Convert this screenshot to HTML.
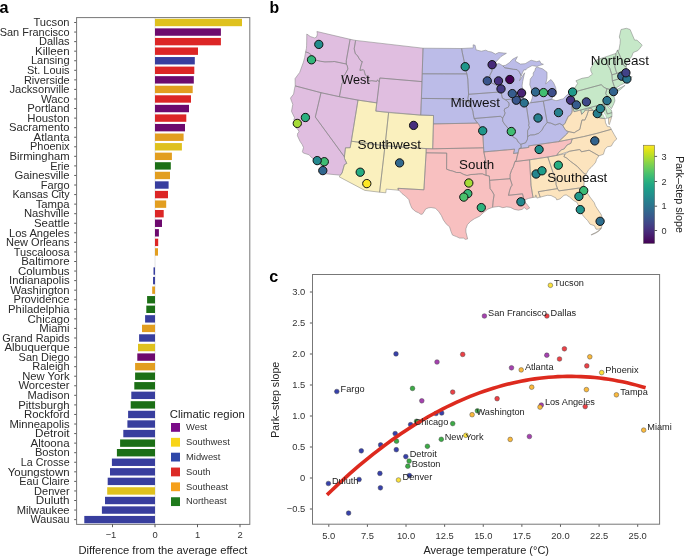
<!DOCTYPE html>
<html><head><meta charset="utf-8"><style>
html,body{margin:0;padding:0;background:#fff;}
svg{display:block;font-family:"Liberation Sans",sans-serif;will-change:transform;}
</style></head><body>
<svg width="685" height="557" viewBox="0 0 685 557">
<rect width="685" height="557" fill="#fff"/>
<path d="M290.5,98.1 L291.6,101.3 L292.8,104.3 L291.5,111.3 L294.5,117.7 L293.9,120.1 L296.6,122.6 L296.2,124.2 L296.0,127.6 L298.2,129.9 L299.1,131.8 L299.0,131.9 L297.7,133.2 L297.4,135.7 L300.1,141.5 L302.2,144.6 L303.5,147.5 L302.4,151.7 L303.3,153.0 L309.1,154.8 L311.4,157.4 L313.8,159.2 L315.8,159.5 L316.4,160.6 L316.8,162.2 L319.4,163.8 L322.8,167.9 L322.7,170.4 L323.0,173.5 L340.3,175.2 L342.1,172.9 L344.4,164.6 L346.8,163.4 L344.5,158.5 L344.4,156.8 L345.5,147.9 L345.7,147.8 L350.2,147.7 L358.1,100.2 L376.7,102.9 L376.8,103.0 L375.8,111.1 L420.7,115.1 L422.0,81.6 L423.0,48.2 L355.6,40.4 L350.1,39.3 L316.9,31.5 L317.3,33.3 L317.2,35.0 L316.3,37.3 L316.2,37.4 L314.4,37.9 L310.3,36.5 L306.8,34.0 L306.6,45.9 L306.4,48.4 L305.6,51.9 L304.7,57.4 L303.4,62.3 L299.7,72.4 L295.1,78.6 L295.2,85.9 L294.6,88.3 L293.6,94.1Z" fill="#e0bee0" stroke="none"/>
<path d="M339.3,176.9 L364.8,190.4 L379.5,192.2 L385.8,192.8 L386.2,189.3 L386.3,189.1 L398.4,190.2 L398.0,188.5 L398.0,188.4 L398.1,188.3 L423.9,189.8 L426.1,152.8 L426.2,148.8 L426.4,148.6 L432.7,148.8 L433.5,115.5 L420.7,115.1 L388.6,112.6 L375.9,111.2 L375.8,111.0 L376.8,102.9 L358.1,100.1 L350.2,147.6 L350.0,147.7 L345.5,147.8 L344.4,156.8 L344.5,158.5 L346.7,163.3 L346.7,163.4 L344.4,164.6 L342.1,172.9 L340.3,175.2Z" fill="#faf0be" stroke="none"/>
<path d="M420.7,115.1 L433.5,115.5 L433.5,115.7 L433.4,123.9 L477.5,123.2 L478.9,124.3 L480.5,128.0 L482.6,130.4 L483.8,151.9 L514.4,149.2 L514.5,149.4 L513.5,153.5 L518.1,152.9 L519.0,148.8 L519.1,148.7 L528.8,147.4 L528.6,146.0 L528.8,145.9 L558.6,141.6 L566.8,134.0 L568.6,131.6 L566.1,130.7 L564.1,127.8 L562.9,125.3 L565.2,123.3 L565.8,121.4 L568.4,116.2 L570.2,115.3 L571.9,112.4 L572.3,109.7 L571.8,106.4 L572.2,104.2 L569.5,93.3 L566.8,95.1 L563.1,98.9 L561.2,99.3 L556.9,100.6 L555.5,100.5 L551.8,99.3 L551.8,99.1 L553.0,96.3 L556.1,90.9 L555.7,87.6 L553.7,82.9 L551.0,79.5 L548.6,81.3 L546.0,83.7 L545.8,83.7 L545.8,83.6 L547.0,78.2 L547.0,72.2 L542.5,68.8 L537.3,67.2 L535.6,67.9 L534.9,70.6 L533.2,73.1 L533.3,75.2 L530.3,79.1 L529.8,84.7 L532.7,92.7 L532.3,97.9 L530.4,102.8 L526.2,103.9 L526.0,103.9 L524.8,100.7 L523.3,97.6 L522.1,93.5 L522.7,89.2 L522.1,85.8 L522.7,81.5 L524.6,72.8 L520.1,79.8 L519.9,79.8 L519.8,79.6 L521.2,75.8 L523.8,69.9 L525.7,70.0 L526.7,68.6 L532.1,65.6 L537.1,66.4 L539.4,65.5 L543.4,64.3 L541.1,63.5 L539.6,60.8 L536.8,61.7 L531.1,60.2 L525.2,63.7 L520.4,64.0 L515.2,61.0 L515.2,60.9 L517.4,56.7 L512.5,59.3 L509.5,62.6 L505.7,65.2 L502.8,65.8 L498.9,63.4 L493.3,65.7 L492.3,66.0 L492.1,65.9 L492.2,65.7 L492.6,65.3 L495.8,62.1 L501.0,56.5 L506.4,53.3 L498.7,52.5 L495.4,54.1 L491.7,52.0 L488.2,51.4 L485.8,50.2 L481.3,51.2 L476.1,49.9 L476.0,49.8 L475.1,45.3 L473.1,44.8 L473.3,47.8 L473.2,47.9 L461.6,48.5 L423.0,48.2 L422.2,73.8 L421.4,98.4Z" fill="#bcbce8" stroke="none"/>
<path d="M397.9,188.3 L398.4,190.2 L399.4,190.5 L402.0,193.6 L405.5,196.3 L408.9,199.7 L409.5,202.2 L410.7,205.5 L412.0,208.4 L415.6,211.5 L418.6,212.8 L420.8,214.3 L422.3,214.2 L424.0,211.8 L425.7,209.0 L428.3,207.9 L431.0,207.5 L435.5,208.3 L438.8,211.7 L441.3,215.4 L443.5,220.2 L446.5,224.3 L449.5,226.7 L451.0,231.5 L452.5,235.1 L456.4,236.6 L459.6,238.1 L463.5,238.1 L465.5,239.4 L467.9,238.7 L467.5,238.3 L465.9,232.0 L465.9,228.8 L467.4,224.7 L470.5,221.4 L474.3,218.8 L479.6,216.2 L483.3,212.7 L487.7,209.2 L492.6,207.3 L498.9,206.4 L502.8,207.7 L506.6,206.9 L510.4,207.4 L514.4,209.4 L518.4,210.2 L522.1,209.4 L524.2,207.5 L526.8,209.6 L529.7,208.0 L527.8,205.4 L526.1,203.2 L523.7,201.5 L523.6,201.4 L524.3,200.1 L528.6,198.4 L533.0,197.4 L531.0,185.3 L529.6,159.8 L529.8,159.8 L547.8,157.0 L556.7,155.4 L558.5,152.6 L561.5,149.8 L564.2,148.9 L567.0,145.0 L570.9,143.3 L572.2,138.9 L558.6,141.6 L528.6,145.9 L528.8,147.2 L528.7,147.4 L519.0,148.7 L518.2,152.8 L518.0,152.9 L513.7,153.5 L513.6,153.4 L513.6,153.3 L514.6,149.2 L483.9,151.9 L483.8,151.8 L482.6,130.4 L480.5,128.0 L478.9,124.3 L477.5,123.1 L433.4,123.9 L432.7,148.7 L432.6,148.8 L426.2,148.6 L426.1,152.8 L423.9,189.7 L423.8,189.8Z" fill="#f8c0c0" stroke="none"/>
<path d="M529.6,159.8 L531.0,185.3 L533.0,197.4 L536.0,197.0 L535.9,196.2 L536.1,196.1 L536.2,196.2 L536.9,198.1 L547.1,195.3 L551.0,195.5 L556.0,198.0 L556.7,199.9 L560.0,198.9 L564.0,195.3 L566.3,194.9 L569.7,197.1 L573.5,200.5 L576.9,202.3 L578.3,205.3 L579.2,210.1 L581.5,213.7 L585.6,218.6 L587.7,220.6 L590.0,224.2 L594.4,225.7 L596.0,229.2 L598.4,229.2 L600.3,228.6 L600.4,228.6 L600.4,228.8 L598.3,230.8 L595.8,232.5 L591.3,234.6 L591.3,235.1 L595.9,233.0 L598.8,231.2 L600.9,229.1 L601.4,227.7 L601.3,227.6 L601.9,226.0 L602.7,222.2 L601.5,215.1 L595.4,205.8 L594.3,202.7 L590.0,197.1 L587.1,192.7 L584.0,185.7 L584.1,180.9 L584.7,176.1 L586.1,174.3 L588.5,169.8 L591.0,167.5 L594.0,164.3 L595.7,162.2 L596.5,159.4 L598.9,155.8 L603.4,154.3 L605.0,149.2 L607.3,146.8 L611.3,146.1 L613.9,141.6 L616.8,139.0 L614.0,134.2 L609.8,126.7 L607.5,126.6 L607.3,126.5 L605.5,122.7 L605.0,118.6 L600.7,118.1 L597.7,117.2 L597.6,117.0 L598.3,113.5 L597.6,112.4 L594.5,111.1 L592.8,110.5 L591.8,108.8 L589.0,108.6 L587.4,110.2 L585.3,110.0 L584.3,111.6 L581.8,114.2 L581.7,114.1 L580.7,110.1 L574.0,111.7 L574.0,111.6 L572.2,104.2 L571.8,106.4 L572.3,109.7 L571.9,112.4 L570.2,115.3 L568.4,116.2 L565.8,121.4 L565.2,123.3 L562.8,125.3 L564.1,127.8 L566.1,130.7 L568.4,131.5 L568.5,131.7 L566.8,134.0 L558.6,141.6 L572.0,138.9 L572.1,139.1 L570.9,143.3 L567.0,145.0 L564.2,148.9 L561.5,149.8 L558.5,152.6 L556.7,155.4 L547.8,157.0ZM568.3,151.6 L568.5,151.7 L568.5,151.9 L565.2,153.8 L559.0,155.0 L558.9,154.9 L559.0,154.7ZM608.5,118.4 L608.6,123.6 L609.3,124.7 L610.6,120.5 L611.9,116.3 L609.4,117.7Z" fill="#fce4be" stroke="none"/>
<path d="M569.5,93.3 L574.0,111.7 L580.6,110.0 L580.7,110.1 L581.7,114.3 L584.3,111.6 L585.3,110.0 L587.4,110.2 L589.0,108.6 L591.7,108.8 L591.8,108.8 L592.8,110.5 L594.5,111.1 L597.7,112.4 L598.3,113.5 L597.6,117.2 L600.7,118.1 L605.0,118.6 L609.4,117.7 L611.9,116.3 L612.0,112.6 L611.2,109.8 L607.7,106.5 L606.0,104.4 L606.4,102.2 L607.2,101.1 L607.4,101.1 L607.5,101.3 L606.3,104.3 L609.9,106.7 L611.5,108.6 L613.8,103.8 L614.9,100.8 L613.7,95.0 L612.4,94.6 L612.3,94.5 L612.9,92.6 L612.9,92.2 L613.1,92.1 L613.8,91.0 L614.3,89.5 L617.3,87.2 L620.6,85.1 L624.7,83.1 L626.8,81.4 L628.4,80.4 L629.4,79.1 L631.5,77.3 L632.2,76.8 L631.0,77.0 L629.9,75.8 L626.4,73.5 L628.1,70.2 L626.3,68.8 L626.2,67.0 L627.4,61.5 L631.6,56.7 L633.2,52.5 L637.7,50.7 L639.5,48.7 L642.1,45.3 L641.7,44.6 L636.9,40.1 L634.7,40.1 L634.6,40.1 L630.1,29.5 L626.4,28.3 L621.0,29.5 L619.3,37.0 L620.3,39.8 L620.1,43.4 L618.9,50.2 L618.8,50.3 L617.4,50.2 L615.8,53.4 L605.3,57.0 L597.5,59.5 L594.4,61.7 L590.7,68.5 L590.9,71.1 L592.4,74.0 L592.4,74.2 L588.2,77.3 L582.0,78.3 L575.9,80.8 L577.5,83.3 L577.5,83.5 L573.6,89.8ZM613.5,93.3 L615.7,92.6 L620.2,89.8 L625.1,85.3 L622.0,87.0 L618.4,88.6 L614.4,90.8Z" fill="#c6e8c8" stroke="none"/>
<path d="M306.8,34.0 L306.7,41.1 L306.6,45.8 L306.4,48.4 L305.6,51.9 L308.4,52.8 L311.5,55.0 L311.8,58.9 L316.7,60.3 L320.7,61.3 L324.9,61.9 L332.3,61.7 L334.3,61.5 L346.3,64.0 L346.3,60.5 L350.1,39.3 L316.9,31.5 L317.3,33.3 L317.2,35.0 L316.3,37.3 L314.4,37.9 L310.3,36.5Z" fill="none" stroke="#858585" stroke-width="0.55" stroke-linejoin="round"/>
<path d="M305.6,51.9 L304.7,57.4 L303.4,62.2 L299.7,72.4 L295.1,78.6 L295.2,85.9 L321.0,92.7 L339.4,96.7 L341.9,83.6 L343.0,82.1 L342.0,77.7 L345.2,74.0 L347.9,69.0 L347.3,65.9 L346.3,64.0 L334.3,61.5 L332.3,61.7 L324.9,61.9 L320.7,61.3 L316.7,60.3 L311.8,58.9 L311.5,55.0 L308.4,52.8Z" fill="none" stroke="#858585" stroke-width="0.55" stroke-linejoin="round"/>
<path d="M295.2,85.9 L294.6,88.3 L293.6,94.1 L290.5,98.1 L291.6,101.3 L292.8,104.3 L291.5,111.3 L294.5,117.7 L293.9,120.1 L296.7,122.6 L296.2,124.2 L296.0,127.6 L298.2,129.9 L299.1,131.9 L297.7,133.2 L297.4,135.7 L300.1,141.5 L302.2,144.6 L303.5,147.5 L302.4,151.7 L303.3,153.0 L309.1,154.8 L311.4,157.4 L313.8,159.2 L315.8,159.4 L316.4,160.6 L316.8,162.2 L319.4,163.8 L322.9,167.9 L322.7,170.4 L323.0,173.5 L340.3,175.2 L342.1,172.9 L344.4,164.6 L346.8,163.4 L344.5,158.5 L344.4,156.8 L315.3,117.0 L321.0,92.7Z" fill="none" stroke="#858585" stroke-width="0.55" stroke-linejoin="round"/>
<path d="M321.0,92.7 L315.3,117.0 L344.4,156.8 L345.5,147.8 L350.2,147.7 L351.3,141.2 L358.0,100.1 L339.4,96.7Z" fill="none" stroke="#858585" stroke-width="0.55" stroke-linejoin="round"/>
<path d="M350.1,39.3 L346.3,60.5 L346.3,64.0 L347.3,65.9 L347.9,69.0 L345.2,74.0 L342.0,77.7 L343.0,82.1 L341.9,83.6 L339.4,96.7 L358.0,100.1 L376.8,102.9 L379.3,82.1 L377.6,79.8 L376.6,81.4 L371.8,80.7 L368.7,81.1 L368.0,77.2 L365.3,75.0 L364.1,70.6 L363.3,69.7 L359.9,70.4 L360.9,65.9 L362.3,61.5 L361.0,61.2 L359.3,58.8 L357.4,55.5 L355.3,53.7 L354.2,48.8 L355.6,40.4Z" fill="none" stroke="#858585" stroke-width="0.55" stroke-linejoin="round"/>
<path d="M379.3,82.1 L379.8,78.0 L422.0,81.6 L423.0,48.2 L355.6,40.4 L354.2,48.8 L355.3,53.7 L357.4,55.5 L359.3,58.8 L361.0,61.2 L362.3,61.5 L360.9,65.9 L359.9,70.4 L363.3,69.7 L364.1,70.6 L365.3,75.0 L368.0,77.2 L368.7,81.1 L371.8,80.7 L376.6,81.4 L377.6,79.8Z" fill="none" stroke="#858585" stroke-width="0.55" stroke-linejoin="round"/>
<path d="M379.8,78.0 L379.3,82.1 L376.8,102.9 L375.8,111.1 L420.7,115.1 L421.4,98.4 L422.0,81.6Z" fill="none" stroke="#858585" stroke-width="0.55" stroke-linejoin="round"/>
<path d="M358.0,100.1 L351.3,141.2 L385.0,145.8 L388.6,112.6 L375.8,111.1 L376.8,102.9Z" fill="none" stroke="#858585" stroke-width="0.55" stroke-linejoin="round"/>
<path d="M388.6,112.6 L385.0,145.8 L426.2,148.6 L432.7,148.8 L433.4,123.9 L433.5,115.5 L420.7,115.1Z" fill="none" stroke="#858585" stroke-width="0.55" stroke-linejoin="round"/>
<path d="M351.3,141.2 L350.2,147.7 L345.5,147.8 L344.4,156.8 L344.5,158.5 L346.8,163.4 L344.4,164.6 L342.1,172.9 L340.3,175.2 L339.3,176.9 L364.8,190.4 L379.6,192.2 L385.0,145.8Z" fill="none" stroke="#858585" stroke-width="0.55" stroke-linejoin="round"/>
<path d="M385.0,145.8 L379.6,192.2 L385.8,192.8 L386.2,189.1 L398.4,190.2 L397.9,188.3 L423.9,189.8 L426.1,152.8 L426.2,148.6Z" fill="none" stroke="#858585" stroke-width="0.55" stroke-linejoin="round"/>
<path d="M426.1,152.8 L423.9,189.8 L397.9,188.3 L398.4,190.2 L399.3,190.5 L402.0,193.6 L405.5,196.2 L408.9,199.7 L409.5,202.2 L410.7,205.5 L412.0,208.4 L415.6,211.5 L418.6,212.8 L420.8,214.3 L422.3,214.2 L424.0,211.8 L425.6,209.0 L428.3,207.9 L431.0,207.5 L435.5,208.3 L438.8,211.7 L441.3,215.4 L443.5,220.2 L446.5,224.3 L449.5,226.7 L451.0,231.5 L452.5,235.1 L456.4,236.6 L459.6,238.1 L463.5,238.1 L465.5,239.4 L467.9,238.7 L467.5,238.4 L465.9,232.0 L465.9,228.8 L467.4,224.7 L470.5,221.4 L474.3,218.8 L479.6,216.2 L483.3,212.7 L485.5,211.0 L487.7,209.2 L492.6,207.3 L493.0,202.3 L493.3,199.9 L494.1,194.9 L492.0,191.0 L490.1,188.7 L489.6,180.3 L489.3,176.0 L486.1,175.4 L482.3,173.8 L478.7,173.9 L475.2,174.3 L470.9,174.5 L467.0,175.5 L463.7,174.4 L460.1,172.5 L456.6,172.5 L452.3,170.9 L450.2,170.5 L446.6,169.2 L446.7,153.1Z" fill="none" stroke="#858585" stroke-width="0.55" stroke-linejoin="round"/>
<path d="M426.2,148.6 L426.1,152.8 L446.7,153.1 L446.6,169.2 L450.2,170.5 L452.3,170.9 L456.6,172.5 L460.1,172.5 L463.7,174.4 L467.0,175.5 L470.9,174.5 L475.2,174.3 L478.7,173.9 L482.3,173.8 L486.1,175.4 L485.7,160.9 L483.8,151.9 L483.6,147.8 L432.7,148.8Z" fill="none" stroke="#858585" stroke-width="0.55" stroke-linejoin="round"/>
<path d="M433.4,123.9 L432.7,148.8 L483.6,147.8 L482.6,130.4 L480.5,128.0 L478.9,124.3 L477.5,123.1Z" fill="none" stroke="#858585" stroke-width="0.55" stroke-linejoin="round"/>
<path d="M421.4,98.4 L420.7,115.1 L433.5,115.5 L433.4,123.9 L477.5,123.1 L474.2,118.5 L473.4,115.0 L472.9,111.3 L471.9,108.4 L469.8,105.1 L469.0,102.7 L468.0,101.4 L465.5,100.6 L462.3,99.9 L456.0,98.8Z" fill="none" stroke="#858585" stroke-width="0.55" stroke-linejoin="round"/>
<path d="M422.2,73.8 L421.4,98.4 L456.0,98.8 L462.3,99.9 L465.5,100.6 L468.0,101.4 L469.0,102.7 L467.9,98.5 L468.6,94.3 L467.8,79.2 L466.9,73.9Z" fill="none" stroke="#858585" stroke-width="0.55" stroke-linejoin="round"/>
<path d="M423.0,48.2 L422.2,73.8 L466.9,73.9 L465.1,68.4 L464.1,60.9 L462.3,52.6 L461.6,48.5Z" fill="none" stroke="#858585" stroke-width="0.55" stroke-linejoin="round"/>
<path d="M461.6,48.5 L462.3,52.6 L464.1,60.9 L465.1,68.4 L466.9,73.9 L467.8,79.2 L468.6,94.3 L501.0,91.9 L500.5,89.0 L498.7,87.1 L495.3,84.5 L490.2,82.4 L490.0,80.3 L489.8,75.3 L492.1,70.9 L491.8,68.4 L491.6,66.2 L492.6,65.3 L495.8,62.1 L501.0,56.5 L506.4,53.3 L503.4,53.0 L498.7,52.5 L495.4,54.1 L491.7,52.0 L488.2,51.4 L485.8,50.2 L481.3,51.2 L476.1,49.9 L475.1,45.3 L473.1,44.8 L473.3,47.9Z" fill="none" stroke="#858585" stroke-width="0.55" stroke-linejoin="round"/>
<path d="M468.6,94.3 L467.9,98.5 L469.0,102.7 L469.8,105.1 L471.9,108.4 L472.9,111.3 L473.4,115.0 L474.2,118.5 L500.4,116.3 L502.6,118.0 L504.4,115.1 L505.1,112.9 L504.2,110.9 L504.6,108.8 L508.3,107.1 L509.0,105.3 L509.0,102.8 L507.1,101.3 L505.6,99.8 L502.4,98.1 L501.9,96.0 L501.0,91.9Z" fill="none" stroke="#858585" stroke-width="0.55" stroke-linejoin="round"/>
<path d="M474.2,118.5 L477.5,123.1 L478.9,124.3 L480.5,128.0 L482.6,130.4 L483.6,147.8 L483.8,151.9 L514.6,149.2 L513.5,153.5 L518.1,152.9 L519.0,148.7 L521.3,147.5 L520.8,144.3 L518.2,142.1 L516.5,138.9 L512.8,136.8 L511.9,134.4 L512.4,131.9 L512.0,130.2 L509.3,129.7 L504.7,124.3 L502.7,121.2 L502.6,118.0 L500.4,116.3Z" fill="none" stroke="#858585" stroke-width="0.55" stroke-linejoin="round"/>
<path d="M491.6,66.2 L491.8,68.4 L492.1,70.9 L489.8,75.3 L490.0,80.3 L490.2,82.4 L495.3,84.5 L498.7,87.1 L500.5,89.0 L501.0,91.9 L501.9,96.0 L502.4,98.1 L505.6,99.8 L523.3,97.6 L522.1,93.5 L522.7,89.2 L522.1,85.9 L522.7,81.5 L523.9,75.8 L524.6,72.8 L522.0,77.0 L519.5,80.7 L521.2,75.8 L519.3,71.9 L517.1,69.6 L513.4,69.3 L511.0,68.8 L504.8,67.8 L502.8,65.8 L498.9,63.4 L493.3,65.7Z" fill="none" stroke="#858585" stroke-width="0.55" stroke-linejoin="round"/>
<path d="M505.6,99.8 L507.1,101.3 L509.0,102.8 L509.0,105.3 L508.3,107.1 L504.6,108.8 L504.2,110.9 L505.1,112.9 L504.4,115.1 L502.6,118.0 L502.7,121.2 L504.7,124.3 L509.3,129.7 L512.0,130.2 L512.4,131.9 L511.9,134.4 L512.8,136.8 L516.5,138.9 L518.2,142.1 L520.8,144.3 L525.6,142.8 L527.5,139.2 L527.6,136.6 L527.6,130.7 L529.5,127.1 L528.6,125.5 L529.0,123.4 L526.1,103.9 L524.8,100.7 L523.3,97.6Z" fill="none" stroke="#858585" stroke-width="0.55" stroke-linejoin="round"/>
<path d="M526.1,103.9 L529.0,123.4 L528.6,125.5 L529.5,127.1 L527.6,130.7 L527.6,136.6 L530.3,135.0 L534.4,134.8 L538.9,133.2 L541.9,130.2 L543.9,126.5 L547.2,122.5 L543.3,101.1 L530.5,102.8Z" fill="none" stroke="#858585" stroke-width="0.55" stroke-linejoin="round"/>
<path d="M543.3,101.1 L547.2,122.5 L550.8,123.1 L555.2,125.0 L559.7,123.5 L562.8,125.3 L565.2,123.3 L565.8,121.4 L567.0,119.0 L568.4,116.2 L570.2,115.3 L571.9,112.4 L572.3,109.7 L571.8,106.4 L572.2,104.2 L569.5,93.3 L566.8,95.1 L563.1,98.9 L561.2,99.3 L556.9,100.6 L555.6,100.5 L551.7,99.3Z" fill="none" stroke="#858585" stroke-width="0.55" stroke-linejoin="round"/>
<path d="M530.5,102.8 L543.3,101.1 L551.7,99.3 L553.0,96.3 L556.1,90.9 L555.7,87.6 L553.7,82.9 L551.0,79.5 L548.6,81.3 L545.7,84.0 L547.0,78.2 L547.0,72.2 L542.5,68.8 L537.3,67.2 L535.6,67.9 L534.9,70.6 L533.2,73.1 L533.3,75.2 L530.3,79.1 L529.8,84.7 L532.7,92.7 L532.3,97.9Z" fill="none" stroke="#858585" stroke-width="0.55" stroke-linejoin="round"/>
<path d="M502.8,65.8 L504.8,67.8 L511.0,68.8 L513.4,69.3 L517.1,69.6 L519.3,71.9 L521.2,75.8 L523.8,69.9 L525.7,70.0 L526.6,68.6 L532.1,65.6 L537.1,66.4 L539.4,65.5 L543.4,64.3 L541.1,63.5 L539.6,60.8 L536.8,61.7 L531.1,60.2 L525.2,63.7 L520.4,64.1 L515.2,61.0 L517.4,56.7 L512.5,59.3 L509.5,62.6 L505.7,65.2Z" fill="none" stroke="#858585" stroke-width="0.55" stroke-linejoin="round"/>
<path d="M519.0,148.7 L528.8,147.4 L528.6,145.9 L558.6,141.6 L566.8,134.0 L568.6,131.6 L566.1,130.7 L564.1,127.8 L562.8,125.3 L559.7,123.5 L555.2,125.0 L550.8,123.1 L547.2,122.5 L543.9,126.5 L541.9,130.2 L538.9,133.2 L534.4,134.8 L530.3,135.0 L527.6,136.6 L527.5,139.2 L525.6,142.8 L520.8,144.3 L521.3,147.5Z" fill="none" stroke="#858585" stroke-width="0.55" stroke-linejoin="round"/>
<path d="M519.0,148.7 L518.1,152.9 L517.1,156.4 L516.2,160.7 L514.9,161.6 L529.6,159.8 L547.8,157.0 L556.7,155.4 L558.5,152.6 L561.5,149.8 L564.2,148.9 L567.0,145.0 L570.9,143.3 L572.2,138.9 L558.6,141.6 L528.6,145.9 L528.8,147.4Z" fill="none" stroke="#858585" stroke-width="0.55" stroke-linejoin="round"/>
<path d="M483.8,151.9 L485.7,160.9 L486.1,175.4 L489.3,176.0 L489.6,180.3 L510.1,178.7 L510.1,174.6 L511.5,170.3 L513.3,166.8 L514.9,161.6 L516.2,160.7 L517.1,156.4 L518.1,152.9 L513.5,153.5 L514.6,149.2Z" fill="none" stroke="#858585" stroke-width="0.55" stroke-linejoin="round"/>
<path d="M489.6,180.3 L490.1,188.7 L492.0,191.0 L494.1,194.9 L493.3,199.9 L493.0,202.3 L492.6,207.3 L498.9,206.4 L502.8,207.7 L506.6,206.9 L510.4,207.4 L514.4,209.4 L518.4,210.2 L522.1,209.4 L524.2,207.5 L526.8,209.6 L529.7,208.0 L527.8,205.4 L526.1,203.2 L523.6,201.4 L524.2,200.1 L522.5,193.8 L508.5,195.3 L509.2,192.4 L509.7,190.3 L510.9,186.9 L512.2,185.1 L511.2,181.9 L510.1,178.7Z" fill="none" stroke="#858585" stroke-width="0.55" stroke-linejoin="round"/>
<path d="M514.9,161.6 L513.3,166.8 L511.5,170.3 L510.1,174.6 L510.1,178.7 L511.2,181.9 L512.2,185.1 L510.9,186.9 L509.7,190.3 L509.2,192.4 L508.5,195.3 L522.5,193.8 L524.2,200.1 L528.6,198.4 L533.0,197.4 L531.0,185.3 L529.6,159.8Z" fill="none" stroke="#858585" stroke-width="0.55" stroke-linejoin="round"/>
<path d="M529.6,159.8 L531.0,185.3 L533.0,197.4 L536.0,197.0 L535.7,194.9 L536.9,198.1 L540.2,197.2 L538.3,191.7 L557.5,188.6 L556.1,184.7 L555.7,178.2 L553.5,174.0 L547.8,157.0Z" fill="none" stroke="#858585" stroke-width="0.55" stroke-linejoin="round"/>
<path d="M547.8,157.0 L553.5,174.0 L555.7,178.2 L556.1,184.7 L557.5,188.6 L558.9,190.9 L578.8,188.1 L580.3,188.0 L584.0,185.7 L584.1,180.9 L584.6,176.2 L586.1,174.3 L584.0,173.4 L581.2,170.6 L577.3,166.4 L573.8,163.8 L570.3,161.2 L566.8,158.1 L563.9,156.6 L565.2,153.8 L556.7,155.4Z" fill="none" stroke="#858585" stroke-width="0.55" stroke-linejoin="round"/>
<path d="M538.3,191.7 L540.2,197.2 L547.2,195.3 L551.0,195.5 L556.0,198.0 L556.7,199.9 L560.0,198.9 L564.0,195.3 L566.2,194.9 L569.7,197.1 L573.5,200.5 L576.9,202.3 L578.3,205.3 L579.2,210.1 L581.5,213.7 L585.6,218.6 L587.7,220.6 L590.0,224.2 L594.4,225.7 L596.0,229.2 L598.4,229.2 L601.1,228.2 L601.9,226.0 L602.7,222.2 L601.5,215.1 L597.2,208.6 L595.4,205.8 L594.3,202.7 L590.0,197.1 L587.1,192.7 L584.0,185.7 L580.3,188.0 L578.8,188.1 L558.9,190.9 L557.5,188.6Z" fill="none" stroke="#858585" stroke-width="0.55" stroke-linejoin="round"/>
<path d="M565.2,153.8 L563.9,156.6 L566.8,158.1 L570.3,161.2 L573.8,163.8 L577.3,166.4 L581.2,170.6 L584.0,173.4 L586.1,174.3 L588.5,169.8 L591.0,167.6 L594.0,164.3 L595.7,162.2 L596.5,159.4 L598.9,155.8 L594.4,153.2 L589.1,150.2 L581.4,151.8 L580.3,149.9 L579.2,149.6 L569.7,151.2Z" fill="none" stroke="#858585" stroke-width="0.55" stroke-linejoin="round"/>
<path d="M556.7,155.4 L569.7,151.2 L579.2,149.6 L580.3,149.9 L581.4,151.8 L589.1,150.2 L594.4,153.2 L598.9,155.8 L603.4,154.3 L605.0,149.2 L607.3,146.8 L611.3,146.1 L613.9,141.5 L616.8,139.0 L614.0,134.2 L611.3,129.3 L597.1,133.3 L583.6,136.6 L572.2,138.9 L570.9,143.3 L567.0,145.0 L564.2,148.9 L561.5,149.8 L558.5,152.6Z" fill="none" stroke="#858585" stroke-width="0.55" stroke-linejoin="round"/>
<path d="M558.6,141.6 L572.2,138.9 L583.6,136.6 L597.1,133.3 L611.3,129.3 L609.8,126.7 L607.4,126.6 L605.5,122.8 L605.0,118.6 L600.7,118.1 L597.6,117.2 L598.3,113.5 L597.6,112.4 L594.5,111.1 L592.8,110.5 L588.5,110.5 L586.8,115.7 L584.8,120.1 L582.0,119.9 L580.8,124.9 L579.8,129.4 L576.0,131.5 L574.2,132.8 L568.6,131.6 L566.8,134.0Z" fill="none" stroke="#858585" stroke-width="0.55" stroke-linejoin="round"/>
<path d="M611.9,116.3 L609.4,117.7 L608.5,118.4 L608.6,123.6 L609.3,124.7 L610.6,120.5Z" fill="none" stroke="#858585" stroke-width="0.55" stroke-linejoin="round"/>
<path d="M562.8,125.3 L564.1,127.8 L566.1,130.7 L568.6,131.6 L574.2,132.8 L576.0,131.5 L579.8,129.4 L580.8,124.9 L582.0,119.9 L584.8,120.1 L586.8,115.7 L588.5,110.5 L592.8,110.5 L591.8,108.8 L589.0,108.6 L587.4,110.2 L585.3,110.0 L584.3,111.6 L581.7,114.3 L580.7,110.1 L574.0,111.7 L572.2,104.2 L571.8,106.4 L572.3,109.7 L571.9,112.4 L570.2,115.3 L568.4,116.2 L567.0,119.0 L565.8,121.4 L565.2,123.3Z" fill="none" stroke="#858585" stroke-width="0.55" stroke-linejoin="round"/>
<path d="M580.7,110.1 L581.7,114.3 L584.3,111.6 L585.3,110.0 L587.4,110.2 L589.0,108.6 L591.8,108.8 L592.8,110.5 L594.5,111.1 L597.6,112.4 L598.3,113.5 L597.6,117.2 L600.7,118.1 L605.0,118.6 L609.4,117.7 L611.9,116.3 L612.0,112.6 L607.3,114.0 L604.2,103.8Z" fill="none" stroke="#858585" stroke-width="0.55" stroke-linejoin="round"/>
<path d="M604.2,103.8 L607.3,114.0 L612.0,112.6 L611.2,109.8 L607.7,106.5 L606.0,104.4 L606.4,102.2Z" fill="none" stroke="#858585" stroke-width="0.55" stroke-linejoin="round"/>
<path d="M574.0,111.7 L604.2,103.8 L606.4,102.2 L607.9,100.3 L609.0,97.3 L606.7,95.4 L605.7,93.5 L606.9,88.7 L604.1,87.4 L601.2,84.7 L574.2,92.0 L573.6,89.8 L569.5,93.3 L572.2,104.2Z" fill="none" stroke="#858585" stroke-width="0.55" stroke-linejoin="round"/>
<path d="M606.9,88.7 L605.7,93.5 L606.7,95.4 L609.0,97.3 L607.9,100.3 L606.3,104.3 L609.9,106.7 L611.5,108.6 L613.8,103.8 L614.9,100.8 L614.5,98.3 L613.7,95.0 L612.2,94.6 L612.9,92.6 L612.8,90.0Z" fill="none" stroke="#858585" stroke-width="0.55" stroke-linejoin="round"/>
<path d="M574.2,92.0 L601.2,84.7 L604.1,87.4 L606.9,88.7 L612.8,90.0 L613.1,92.1 L613.8,91.0 L614.3,89.5 L614.4,86.8 L612.4,80.8 L611.9,74.8 L609.8,68.4 L607.7,65.1 L606.3,61.1 L605.3,57.0 L597.5,59.5 L594.4,61.7 L590.7,68.5 L590.9,71.1 L592.4,74.2 L588.2,77.3 L582.0,78.3 L575.9,80.8 L577.6,83.4 L573.6,89.8Z" fill="none" stroke="#858585" stroke-width="0.55" stroke-linejoin="round"/>
<path d="M613.5,93.3 L615.7,92.6 L620.2,89.8 L625.1,85.3 L622.0,87.0 L618.5,88.6 L614.4,90.8Z" fill="none" stroke="#858585" stroke-width="0.55" stroke-linejoin="round"/>
<path d="M612.4,80.8 L614.4,86.8 L614.3,89.5 L617.3,87.2 L620.6,85.1 L624.7,83.1 L622.8,77.7Z" fill="none" stroke="#858585" stroke-width="0.55" stroke-linejoin="round"/>
<path d="M622.8,77.7 L624.7,83.1 L626.8,81.4 L628.4,80.4 L625.3,76.8Z" fill="none" stroke="#858585" stroke-width="0.55" stroke-linejoin="round"/>
<path d="M611.9,74.8 L612.4,80.8 L622.8,77.7 L625.3,76.8 L628.4,80.4 L629.4,79.1 L631.5,77.3 L632.2,76.8 L631.0,77.0 L629.9,75.8 L626.3,73.5 L628.1,70.2 L626.3,68.9 L625.1,69.4 L624.0,70.8 L616.9,73.4Z" fill="none" stroke="#858585" stroke-width="0.55" stroke-linejoin="round"/>
<path d="M605.3,57.0 L606.3,61.1 L607.7,65.1 L609.8,68.4 L611.9,74.8 L616.9,73.4 L616.1,71.2 L614.8,66.7 L615.6,62.5 L614.9,59.6 L615.8,55.7 L615.9,53.4Z" fill="none" stroke="#858585" stroke-width="0.55" stroke-linejoin="round"/>
<path d="M615.9,53.4 L615.8,55.7 L614.9,59.6 L615.6,62.5 L614.8,66.7 L616.1,71.2 L616.9,73.4 L624.0,70.8 L625.1,69.4 L626.3,68.9 L626.2,67.0 L623.8,65.4 L622.4,61.9 L620.2,56.4 L617.4,50.2Z" fill="none" stroke="#858585" stroke-width="0.55" stroke-linejoin="round"/>
<path d="M617.4,50.2 L620.2,56.4 L622.4,61.9 L623.8,65.4 L626.2,67.0 L627.4,61.4 L629.3,59.4 L631.6,56.7 L633.2,52.5 L637.7,50.7 L639.5,48.7 L642.1,45.3 L641.7,44.6 L636.9,40.1 L634.6,40.1 L630.1,29.5 L626.4,28.3 L621.0,29.5 L619.3,37.0 L620.3,39.7 L620.1,43.4 L618.9,50.3Z" fill="none" stroke="#858585" stroke-width="0.55" stroke-linejoin="round"/>
<path d="M601.4,227.7 L600.4,228.8 L598.4,230.8 L595.8,232.5 L591.3,234.6 L591.3,235.1 L595.9,233.0 L598.8,231.2 L600.9,229.1Z" fill="none" stroke="#858585" stroke-width="0.55" stroke-linejoin="round"/>
<path d="M602.6,105.8 L601.2,109.2 L601.6,111.7 L603.4,115.5 L605.0,118.6 L606.3,118.2 L605.9,115.7 L603.5,112.1 L603.7,108.1Z" fill="#fff" stroke="#a0a0a0" stroke-width="0.4"/>
<text x="269.60" y="13.00" font-size="15.8" text-anchor="start" fill="#000" font-weight="bold">b</text>
<text x="341.20" y="84.40" font-size="12.8" text-anchor="start" fill="#111" textLength="28.7" lengthAdjust="spacingAndGlyphs">West</text>
<text x="450.50" y="107.20" font-size="12.8" text-anchor="start" fill="#111" textLength="49.4" lengthAdjust="spacingAndGlyphs">Midwest</text>
<text x="357.60" y="148.80" font-size="12.8" text-anchor="start" fill="#111" textLength="63.4" lengthAdjust="spacingAndGlyphs">Southwest</text>
<text x="459.10" y="169.30" font-size="12.8" text-anchor="start" fill="#111" textLength="35" lengthAdjust="spacingAndGlyphs">South</text>
<text x="547.20" y="181.70" font-size="12.8" text-anchor="start" fill="#111" textLength="60.1" lengthAdjust="spacingAndGlyphs">Southeast</text>
<text x="590.70" y="64.90" font-size="12.8" text-anchor="start" fill="#111" textLength="58.2" lengthAdjust="spacingAndGlyphs">Northeast</text>
<circle cx="570.60" cy="100.20" r="4.15" fill="#453581" stroke="#111" stroke-width="1.0"/>
<circle cx="621.80" cy="76.20" r="4.15" fill="#33628d" stroke="#111" stroke-width="1.0"/>
<circle cx="509.80" cy="79.50" r="4.15" fill="#440154" stroke="#111" stroke-width="1.0"/>
<circle cx="597.30" cy="113.60" r="4.15" fill="#277e8e" stroke="#111" stroke-width="1.0"/>
<circle cx="467.80" cy="193.60" r="4.15" fill="#38b977" stroke="#111" stroke-width="1.0"/>
<circle cx="536.10" cy="174.00" r="4.15" fill="#24868e" stroke="#111" stroke-width="1.0"/>
<circle cx="366.80" cy="183.60" r="4.15" fill="#fde725" stroke="#111" stroke-width="1.0"/>
<circle cx="580.30" cy="209.60" r="4.15" fill="#20938c" stroke="#111" stroke-width="1.0"/>
<circle cx="511.30" cy="131.50" r="4.15" fill="#40bd72" stroke="#111" stroke-width="1.0"/>
<circle cx="318.80" cy="44.40" r="4.15" fill="#228d8d" stroke="#111" stroke-width="1.0"/>
<circle cx="297.30" cy="123.40" r="4.15" fill="#a5db36" stroke="#111" stroke-width="1.0"/>
<circle cx="322.80" cy="170.60" r="4.15" fill="#31668e" stroke="#111" stroke-width="1.0"/>
<circle cx="305.40" cy="117.50" r="4.15" fill="#2ab07f" stroke="#111" stroke-width="1.0"/>
<circle cx="516.30" cy="100.20" r="4.15" fill="#39568c" stroke="#111" stroke-width="1.0"/>
<circle cx="324.30" cy="161.70" r="4.15" fill="#3fbc73" stroke="#111" stroke-width="1.0"/>
<circle cx="594.80" cy="140.90" r="4.15" fill="#33638d" stroke="#111" stroke-width="1.0"/>
<circle cx="626.90" cy="79.00" r="4.15" fill="#2a768e" stroke="#111" stroke-width="1.0"/>
<circle cx="311.50" cy="59.80" r="4.15" fill="#32b67a" stroke="#111" stroke-width="1.0"/>
<circle cx="576.40" cy="104.90" r="4.15" fill="#365c8d" stroke="#111" stroke-width="1.0"/>
<circle cx="360.20" cy="172.20" r="4.15" fill="#25ac82" stroke="#111" stroke-width="1.0"/>
<circle cx="607.00" cy="100.60" r="4.15" fill="#2b748e" stroke="#111" stroke-width="1.0"/>
<circle cx="613.50" cy="91.60" r="4.15" fill="#33638d" stroke="#111" stroke-width="1.0"/>
<circle cx="520.90" cy="201.80" r="4.15" fill="#24878e" stroke="#111" stroke-width="1.0"/>
<circle cx="539.10" cy="149.50" r="4.15" fill="#21908d" stroke="#111" stroke-width="1.0"/>
<circle cx="487.30" cy="80.90" r="4.15" fill="#39558c" stroke="#111" stroke-width="1.0"/>
<circle cx="521.60" cy="93.00" r="4.15" fill="#482475" stroke="#111" stroke-width="1.0"/>
<circle cx="600.10" cy="221.30" r="4.15" fill="#2e6e8e" stroke="#111" stroke-width="1.0"/>
<circle cx="512.30" cy="93.60" r="4.15" fill="#365d8d" stroke="#111" stroke-width="1.0"/>
<circle cx="317.20" cy="160.60" r="4.15" fill="#23888e" stroke="#111" stroke-width="1.0"/>
<circle cx="501.00" cy="88.90" r="4.15" fill="#443983" stroke="#111" stroke-width="1.0"/>
<circle cx="463.80" cy="197.10" r="4.15" fill="#4cc26c" stroke="#111" stroke-width="1.0"/>
<circle cx="482.70" cy="130.80" r="4.15" fill="#1f968b" stroke="#111" stroke-width="1.0"/>
<circle cx="583.70" cy="190.60" r="4.15" fill="#3bbb75" stroke="#111" stroke-width="1.0"/>
<circle cx="538.00" cy="118.00" r="4.15" fill="#277f8e" stroke="#111" stroke-width="1.0"/>
<circle cx="481.30" cy="207.60" r="4.15" fill="#2db27d" stroke="#111" stroke-width="1.0"/>
<circle cx="535.50" cy="92.00" r="4.15" fill="#30698e" stroke="#111" stroke-width="1.0"/>
<circle cx="578.90" cy="196.40" r="4.15" fill="#1f998a" stroke="#111" stroke-width="1.0"/>
<circle cx="465.20" cy="66.70" r="4.15" fill="#1f978b" stroke="#111" stroke-width="1.0"/>
<circle cx="572.60" cy="92.00" r="4.15" fill="#1f9a8a" stroke="#111" stroke-width="1.0"/>
<circle cx="498.50" cy="80.90" r="4.15" fill="#46307e" stroke="#111" stroke-width="1.0"/>
<circle cx="492.10" cy="64.70" r="4.15" fill="#472a7a" stroke="#111" stroke-width="1.0"/>
<circle cx="552.10" cy="92.60" r="4.15" fill="#3d4e8a" stroke="#111" stroke-width="1.0"/>
<circle cx="413.60" cy="125.40" r="4.15" fill="#472f7d" stroke="#111" stroke-width="1.0"/>
<circle cx="468.80" cy="183.00" r="4.15" fill="#a5db36" stroke="#111" stroke-width="1.0"/>
<circle cx="558.50" cy="112.60" r="4.15" fill="#27808e" stroke="#111" stroke-width="1.0"/>
<circle cx="524.20" cy="102.90" r="4.15" fill="#2c728e" stroke="#111" stroke-width="1.0"/>
<circle cx="625.90" cy="72.80" r="4.15" fill="#414287" stroke="#111" stroke-width="1.0"/>
<circle cx="542.00" cy="170.80" r="4.15" fill="#1e9c89" stroke="#111" stroke-width="1.0"/>
<circle cx="600.40" cy="108.60" r="4.15" fill="#26828e" stroke="#111" stroke-width="1.0"/>
<circle cx="558.30" cy="165.20" r="4.15" fill="#27ad81" stroke="#111" stroke-width="1.0"/>
<circle cx="586.40" cy="101.90" r="4.15" fill="#3f4889" stroke="#111" stroke-width="1.0"/>
<circle cx="399.60" cy="162.90" r="4.15" fill="#31688e" stroke="#111" stroke-width="1.0"/>
<circle cx="543.50" cy="92.60" r="4.15" fill="#42be71" stroke="#111" stroke-width="1.0"/>
<defs><linearGradient id="vg" x1="0" y1="0" x2="0" y2="1"><stop offset="0.00" stop-color="#fde725"/><stop offset="0.05" stop-color="#dfe318"/><stop offset="0.10" stop-color="#bddf26"/><stop offset="0.15" stop-color="#9bd93c"/><stop offset="0.20" stop-color="#7ad151"/><stop offset="0.25" stop-color="#5ec962"/><stop offset="0.30" stop-color="#44bf70"/><stop offset="0.35" stop-color="#2fb47c"/><stop offset="0.40" stop-color="#22a884"/><stop offset="0.45" stop-color="#1e9c89"/><stop offset="0.50" stop-color="#21918c"/><stop offset="0.55" stop-color="#25848e"/><stop offset="0.60" stop-color="#2a788e"/><stop offset="0.65" stop-color="#2f6c8e"/><stop offset="0.70" stop-color="#355f8d"/><stop offset="0.75" stop-color="#3b528b"/><stop offset="0.80" stop-color="#414487"/><stop offset="0.85" stop-color="#463480"/><stop offset="0.90" stop-color="#482475"/><stop offset="0.95" stop-color="#471365"/><stop offset="1.00" stop-color="#440154"/></linearGradient></defs>
<rect x="643.5" y="145.2" width="11.1" height="98.2" fill="url(#vg)" stroke="#555" stroke-width="0.5"/>
<line x1="654.6" y1="156.4" x2="657.1" y2="156.4" stroke="#3c3c3c" stroke-width="0.85"/>
<text x="661.60" y="159.60" font-size="9.2" text-anchor="start" fill="#333">3</text>
<line x1="654.6" y1="181.5" x2="657.1" y2="181.5" stroke="#3c3c3c" stroke-width="0.85"/>
<text x="661.60" y="184.70" font-size="9.2" text-anchor="start" fill="#333">2</text>
<line x1="654.6" y1="206.2" x2="657.1" y2="206.2" stroke="#3c3c3c" stroke-width="0.85"/>
<text x="661.60" y="209.40" font-size="9.2" text-anchor="start" fill="#333">1</text>
<line x1="654.6" y1="230.5" x2="657.1" y2="230.5" stroke="#3c3c3c" stroke-width="0.85"/>
<text x="661.60" y="233.70" font-size="9.2" text-anchor="start" fill="#333">0</text>
<text transform="translate(676.0,194.4) rotate(90)" font-size="10.6" text-anchor="middle" fill="#222" textLength="77" lengthAdjust="spacingAndGlyphs">Park–step slope</text>
<text x="-0.60" y="12.90" font-size="16.2" text-anchor="start" fill="#000" font-weight="bold">a</text>
<line x1="155.0" y1="17.6" x2="155.0" y2="524.4" stroke="#e2e2e2" stroke-width="1"/>
<rect x="155.00" y="18.80" width="87.00" height="7.4" fill="#dfc11e"/>
<line x1="74.2" y1="22.50" x2="76.6" y2="22.50" stroke="#3c3c3c" stroke-width="0.85"/>
<text x="69.60" y="26.20" font-size="10.8" text-anchor="end" fill="#2a2a2a" textLength="36.2" lengthAdjust="spacingAndGlyphs">Tucson</text>
<rect x="155.00" y="28.36" width="65.90" height="7.4" fill="#6d0a6e"/>
<line x1="74.2" y1="32.06" x2="76.6" y2="32.06" stroke="#3c3c3c" stroke-width="0.85"/>
<text x="69.60" y="35.76" font-size="10.8" text-anchor="end" fill="#2a2a2a" textLength="69.9" lengthAdjust="spacingAndGlyphs">San Francisco</text>
<rect x="155.00" y="37.92" width="65.90" height="7.4" fill="#dc2626"/>
<line x1="74.2" y1="41.62" x2="76.6" y2="41.62" stroke="#3c3c3c" stroke-width="0.85"/>
<text x="69.60" y="45.32" font-size="10.8" text-anchor="end" fill="#2a2a2a" textLength="30.6" lengthAdjust="spacingAndGlyphs">Dallas</text>
<rect x="155.00" y="47.48" width="43.00" height="7.4" fill="#dc2626"/>
<line x1="74.2" y1="51.18" x2="76.6" y2="51.18" stroke="#3c3c3c" stroke-width="0.85"/>
<text x="69.60" y="54.88" font-size="10.8" text-anchor="end" fill="#2a2a2a" textLength="34.6" lengthAdjust="spacingAndGlyphs">Killeen</text>
<rect x="155.00" y="57.04" width="39.80" height="7.4" fill="#383e9e"/>
<line x1="74.2" y1="60.74" x2="76.6" y2="60.74" stroke="#3c3c3c" stroke-width="0.85"/>
<text x="69.60" y="64.44" font-size="10.8" text-anchor="end" fill="#2a2a2a" textLength="38.7" lengthAdjust="spacingAndGlyphs">Lansing</text>
<rect x="155.00" y="66.60" width="39.30" height="7.4" fill="#dc2626"/>
<line x1="74.2" y1="70.30" x2="76.6" y2="70.30" stroke="#3c3c3c" stroke-width="0.85"/>
<text x="69.60" y="74.00" font-size="10.8" text-anchor="end" fill="#2a2a2a" textLength="42.7" lengthAdjust="spacingAndGlyphs">St. Louis</text>
<rect x="155.00" y="76.16" width="38.80" height="7.4" fill="#6d0a6e"/>
<line x1="74.2" y1="79.86" x2="76.6" y2="79.86" stroke="#3c3c3c" stroke-width="0.85"/>
<text x="69.60" y="83.56" font-size="10.8" text-anchor="end" fill="#2a2a2a" textLength="45.7" lengthAdjust="spacingAndGlyphs">Riverside</text>
<rect x="155.00" y="85.72" width="37.70" height="7.4" fill="#e29e20"/>
<line x1="74.2" y1="89.42" x2="76.6" y2="89.42" stroke="#3c3c3c" stroke-width="0.85"/>
<text x="69.60" y="93.12" font-size="10.8" text-anchor="end" fill="#2a2a2a" textLength="60.2" lengthAdjust="spacingAndGlyphs">Jacksonville</text>
<rect x="155.00" y="95.28" width="36.00" height="7.4" fill="#dc2626"/>
<line x1="74.2" y1="98.98" x2="76.6" y2="98.98" stroke="#3c3c3c" stroke-width="0.85"/>
<text x="69.60" y="102.68" font-size="10.8" text-anchor="end" fill="#2a2a2a" textLength="28.6" lengthAdjust="spacingAndGlyphs">Waco</text>
<rect x="155.00" y="104.84" width="34.00" height="7.4" fill="#6d0a6e"/>
<line x1="74.2" y1="108.54" x2="76.6" y2="108.54" stroke="#3c3c3c" stroke-width="0.85"/>
<text x="69.60" y="112.24" font-size="10.8" text-anchor="end" fill="#2a2a2a" textLength="42.4" lengthAdjust="spacingAndGlyphs">Portland</text>
<rect x="155.00" y="114.40" width="31.30" height="7.4" fill="#dc2626"/>
<line x1="74.2" y1="118.10" x2="76.6" y2="118.10" stroke="#3c3c3c" stroke-width="0.85"/>
<text x="69.60" y="121.80" font-size="10.8" text-anchor="end" fill="#2a2a2a" textLength="42.4" lengthAdjust="spacingAndGlyphs">Houston</text>
<rect x="155.00" y="123.96" width="30.00" height="7.4" fill="#6d0a6e"/>
<line x1="74.2" y1="127.66" x2="76.6" y2="127.66" stroke="#3c3c3c" stroke-width="0.85"/>
<text x="69.60" y="131.36" font-size="10.8" text-anchor="end" fill="#2a2a2a" textLength="60.6" lengthAdjust="spacingAndGlyphs">Sacramento</text>
<rect x="155.00" y="133.52" width="28.60" height="7.4" fill="#e29e20"/>
<line x1="74.2" y1="137.22" x2="76.6" y2="137.22" stroke="#3c3c3c" stroke-width="0.85"/>
<text x="69.60" y="140.92" font-size="10.8" text-anchor="end" fill="#2a2a2a" textLength="36.0" lengthAdjust="spacingAndGlyphs">Atlanta</text>
<rect x="155.00" y="143.08" width="26.90" height="7.4" fill="#dfc11e"/>
<line x1="74.2" y1="146.78" x2="76.6" y2="146.78" stroke="#3c3c3c" stroke-width="0.85"/>
<text x="69.60" y="150.48" font-size="10.8" text-anchor="end" fill="#2a2a2a" textLength="39.6" lengthAdjust="spacingAndGlyphs">Phoenix</text>
<rect x="155.00" y="152.64" width="16.90" height="7.4" fill="#e29e20"/>
<line x1="74.2" y1="156.34" x2="76.6" y2="156.34" stroke="#3c3c3c" stroke-width="0.85"/>
<text x="69.60" y="160.04" font-size="10.8" text-anchor="end" fill="#2a2a2a" textLength="60.2" lengthAdjust="spacingAndGlyphs">Birmingham</text>
<rect x="155.00" y="162.20" width="15.80" height="7.4" fill="#1c6f16"/>
<line x1="74.2" y1="165.90" x2="76.6" y2="165.90" stroke="#3c3c3c" stroke-width="0.85"/>
<text x="69.60" y="169.60" font-size="10.8" text-anchor="end" fill="#2a2a2a" textLength="19.4" lengthAdjust="spacingAndGlyphs">Erie</text>
<rect x="155.00" y="171.76" width="15.00" height="7.4" fill="#e29e20"/>
<line x1="74.2" y1="175.46" x2="76.6" y2="175.46" stroke="#3c3c3c" stroke-width="0.85"/>
<text x="69.60" y="179.16" font-size="10.8" text-anchor="end" fill="#2a2a2a" textLength="55.1" lengthAdjust="spacingAndGlyphs">Gainesville</text>
<rect x="155.00" y="181.32" width="13.60" height="7.4" fill="#383e9e"/>
<line x1="74.2" y1="185.02" x2="76.6" y2="185.02" stroke="#3c3c3c" stroke-width="0.85"/>
<text x="69.60" y="188.72" font-size="10.8" text-anchor="end" fill="#2a2a2a" textLength="28.8" lengthAdjust="spacingAndGlyphs">Fargo</text>
<rect x="155.00" y="190.88" width="13.00" height="7.4" fill="#dc2626"/>
<line x1="74.2" y1="194.58" x2="76.6" y2="194.58" stroke="#3c3c3c" stroke-width="0.85"/>
<text x="69.60" y="198.28" font-size="10.8" text-anchor="end" fill="#2a2a2a" textLength="57.2" lengthAdjust="spacingAndGlyphs">Kansas City</text>
<rect x="155.00" y="200.44" width="11.20" height="7.4" fill="#e29e20"/>
<line x1="74.2" y1="204.14" x2="76.6" y2="204.14" stroke="#3c3c3c" stroke-width="0.85"/>
<text x="69.60" y="207.84" font-size="10.8" text-anchor="end" fill="#2a2a2a" textLength="33.9" lengthAdjust="spacingAndGlyphs">Tampa</text>
<rect x="155.00" y="210.00" width="8.70" height="7.4" fill="#dc2626"/>
<line x1="74.2" y1="213.70" x2="76.6" y2="213.70" stroke="#3c3c3c" stroke-width="0.85"/>
<text x="69.60" y="217.40" font-size="10.8" text-anchor="end" fill="#2a2a2a" textLength="45.7" lengthAdjust="spacingAndGlyphs">Nashville</text>
<rect x="155.00" y="219.56" width="7.00" height="7.4" fill="#6d0a6e"/>
<line x1="74.2" y1="223.26" x2="76.6" y2="223.26" stroke="#3c3c3c" stroke-width="0.85"/>
<text x="69.60" y="226.96" font-size="10.8" text-anchor="end" fill="#2a2a2a" textLength="35.6" lengthAdjust="spacingAndGlyphs">Seattle</text>
<rect x="155.00" y="229.12" width="3.90" height="7.4" fill="#6d0a6e"/>
<line x1="74.2" y1="232.82" x2="76.6" y2="232.82" stroke="#3c3c3c" stroke-width="0.85"/>
<text x="69.60" y="236.52" font-size="10.8" text-anchor="end" fill="#2a2a2a" textLength="60.6" lengthAdjust="spacingAndGlyphs">Los Angeles</text>
<rect x="155.00" y="238.68" width="3.20" height="7.4" fill="#dc2626"/>
<line x1="74.2" y1="242.38" x2="76.6" y2="242.38" stroke="#3c3c3c" stroke-width="0.85"/>
<text x="69.60" y="246.08" font-size="10.8" text-anchor="end" fill="#2a2a2a" textLength="63.6" lengthAdjust="spacingAndGlyphs">New Orleans</text>
<rect x="155.00" y="248.24" width="3.00" height="7.4" fill="#e29e20"/>
<line x1="74.2" y1="251.94" x2="76.6" y2="251.94" stroke="#3c3c3c" stroke-width="0.85"/>
<text x="69.60" y="255.64" font-size="10.8" text-anchor="end" fill="#2a2a2a" textLength="55.8" lengthAdjust="spacingAndGlyphs">Tuscaloosa</text>
<line x1="74.2" y1="261.50" x2="76.6" y2="261.50" stroke="#3c3c3c" stroke-width="0.85"/>
<text x="69.60" y="265.20" font-size="10.8" text-anchor="end" fill="#2a2a2a" textLength="48.4" lengthAdjust="spacingAndGlyphs">Baltimore</text>
<rect x="153.50" y="267.36" width="1.50" height="7.4" fill="#383e9e"/>
<line x1="74.2" y1="271.06" x2="76.6" y2="271.06" stroke="#3c3c3c" stroke-width="0.85"/>
<text x="69.60" y="274.76" font-size="10.8" text-anchor="end" fill="#2a2a2a" textLength="51.7" lengthAdjust="spacingAndGlyphs">Columbus</text>
<rect x="153.05" y="276.92" width="1.95" height="7.4" fill="#383e9e"/>
<line x1="74.2" y1="280.62" x2="76.6" y2="280.62" stroke="#3c3c3c" stroke-width="0.85"/>
<text x="69.60" y="284.32" font-size="10.8" text-anchor="end" fill="#2a2a2a" textLength="60.6" lengthAdjust="spacingAndGlyphs">Indianapolis</text>
<rect x="152.20" y="286.48" width="2.80" height="7.4" fill="#e29e20"/>
<line x1="74.2" y1="290.18" x2="76.6" y2="290.18" stroke="#3c3c3c" stroke-width="0.85"/>
<text x="69.60" y="293.88" font-size="10.8" text-anchor="end" fill="#2a2a2a" textLength="59.1" lengthAdjust="spacingAndGlyphs">Washington</text>
<rect x="147.10" y="296.04" width="7.90" height="7.4" fill="#1c6f16"/>
<line x1="74.2" y1="299.74" x2="76.6" y2="299.74" stroke="#3c3c3c" stroke-width="0.85"/>
<text x="69.60" y="303.44" font-size="10.8" text-anchor="end" fill="#2a2a2a" textLength="56.2" lengthAdjust="spacingAndGlyphs">Providence</text>
<rect x="146.30" y="305.60" width="8.70" height="7.4" fill="#1c6f16"/>
<line x1="74.2" y1="309.30" x2="76.6" y2="309.30" stroke="#3c3c3c" stroke-width="0.85"/>
<text x="69.60" y="313.00" font-size="10.8" text-anchor="end" fill="#2a2a2a" textLength="61.5" lengthAdjust="spacingAndGlyphs">Philadelphia</text>
<rect x="145.10" y="315.16" width="9.90" height="7.4" fill="#383e9e"/>
<line x1="74.2" y1="318.86" x2="76.6" y2="318.86" stroke="#3c3c3c" stroke-width="0.85"/>
<text x="69.60" y="322.56" font-size="10.8" text-anchor="end" fill="#2a2a2a" textLength="42.0" lengthAdjust="spacingAndGlyphs">Chicago</text>
<rect x="142.00" y="324.72" width="13.00" height="7.4" fill="#e29e20"/>
<line x1="74.2" y1="328.42" x2="76.6" y2="328.42" stroke="#3c3c3c" stroke-width="0.85"/>
<text x="69.60" y="332.12" font-size="10.8" text-anchor="end" fill="#2a2a2a" textLength="30.3" lengthAdjust="spacingAndGlyphs">Miami</text>
<rect x="139.10" y="334.28" width="15.90" height="7.4" fill="#383e9e"/>
<line x1="74.2" y1="337.98" x2="76.6" y2="337.98" stroke="#3c3c3c" stroke-width="0.85"/>
<text x="69.60" y="341.68" font-size="10.8" text-anchor="end" fill="#2a2a2a" textLength="67.3" lengthAdjust="spacingAndGlyphs">Grand Rapids</text>
<rect x="138.00" y="343.84" width="17.00" height="7.4" fill="#dfc11e"/>
<line x1="74.2" y1="347.54" x2="76.6" y2="347.54" stroke="#3c3c3c" stroke-width="0.85"/>
<text x="69.60" y="351.24" font-size="10.8" text-anchor="end" fill="#2a2a2a" textLength="65.2" lengthAdjust="spacingAndGlyphs">Albuquerque</text>
<rect x="137.30" y="353.40" width="17.70" height="7.4" fill="#6d0a6e"/>
<line x1="74.2" y1="357.10" x2="76.6" y2="357.10" stroke="#3c3c3c" stroke-width="0.85"/>
<text x="69.60" y="360.80" font-size="10.8" text-anchor="end" fill="#2a2a2a" textLength="51.0" lengthAdjust="spacingAndGlyphs">San Diego</text>
<rect x="135.10" y="362.96" width="19.90" height="7.4" fill="#e29e20"/>
<line x1="74.2" y1="366.66" x2="76.6" y2="366.66" stroke="#3c3c3c" stroke-width="0.85"/>
<text x="69.60" y="370.36" font-size="10.8" text-anchor="end" fill="#2a2a2a" textLength="37.3" lengthAdjust="spacingAndGlyphs">Raleigh</text>
<rect x="135.10" y="372.52" width="19.90" height="7.4" fill="#1c6f16"/>
<line x1="74.2" y1="376.22" x2="76.6" y2="376.22" stroke="#3c3c3c" stroke-width="0.85"/>
<text x="69.60" y="379.92" font-size="10.8" text-anchor="end" fill="#2a2a2a" textLength="47.4" lengthAdjust="spacingAndGlyphs">New York</text>
<rect x="134.30" y="382.08" width="20.70" height="7.4" fill="#1c6f16"/>
<line x1="74.2" y1="385.78" x2="76.6" y2="385.78" stroke="#3c3c3c" stroke-width="0.85"/>
<text x="69.60" y="389.48" font-size="10.8" text-anchor="end" fill="#2a2a2a" textLength="51.2" lengthAdjust="spacingAndGlyphs">Worcester</text>
<rect x="131.30" y="391.64" width="23.70" height="7.4" fill="#383e9e"/>
<line x1="74.2" y1="395.34" x2="76.6" y2="395.34" stroke="#3c3c3c" stroke-width="0.85"/>
<text x="69.60" y="399.04" font-size="10.8" text-anchor="end" fill="#2a2a2a" textLength="42.0" lengthAdjust="spacingAndGlyphs">Madison</text>
<rect x="130.70" y="401.20" width="24.30" height="7.4" fill="#1c6f16"/>
<line x1="74.2" y1="404.90" x2="76.6" y2="404.90" stroke="#3c3c3c" stroke-width="0.85"/>
<text x="69.60" y="408.60" font-size="10.8" text-anchor="end" fill="#2a2a2a" textLength="51.4" lengthAdjust="spacingAndGlyphs">Pittsburgh</text>
<rect x="128.10" y="410.76" width="26.90" height="7.4" fill="#383e9e"/>
<line x1="74.2" y1="414.46" x2="76.6" y2="414.46" stroke="#3c3c3c" stroke-width="0.85"/>
<text x="69.60" y="418.16" font-size="10.8" text-anchor="end" fill="#2a2a2a" textLength="45.7" lengthAdjust="spacingAndGlyphs">Rockford</text>
<rect x="127.40" y="420.32" width="27.60" height="7.4" fill="#383e9e"/>
<line x1="74.2" y1="424.02" x2="76.6" y2="424.02" stroke="#3c3c3c" stroke-width="0.85"/>
<text x="69.60" y="427.72" font-size="10.8" text-anchor="end" fill="#2a2a2a" textLength="60.2" lengthAdjust="spacingAndGlyphs">Minneapolis</text>
<rect x="123.30" y="429.88" width="31.70" height="7.4" fill="#383e9e"/>
<line x1="74.2" y1="433.58" x2="76.6" y2="433.58" stroke="#3c3c3c" stroke-width="0.85"/>
<text x="69.60" y="437.28" font-size="10.8" text-anchor="end" fill="#2a2a2a" textLength="34.6" lengthAdjust="spacingAndGlyphs">Detroit</text>
<rect x="120.10" y="439.44" width="34.90" height="7.4" fill="#1c6f16"/>
<line x1="74.2" y1="443.14" x2="76.6" y2="443.14" stroke="#3c3c3c" stroke-width="0.85"/>
<text x="69.60" y="446.84" font-size="10.8" text-anchor="end" fill="#2a2a2a" textLength="39.1" lengthAdjust="spacingAndGlyphs">Altoona</text>
<rect x="116.90" y="449.00" width="38.10" height="7.4" fill="#1c6f16"/>
<line x1="74.2" y1="452.70" x2="76.6" y2="452.70" stroke="#3c3c3c" stroke-width="0.85"/>
<text x="69.60" y="456.40" font-size="10.8" text-anchor="end" fill="#2a2a2a" textLength="34.7" lengthAdjust="spacingAndGlyphs">Boston</text>
<rect x="111.90" y="458.56" width="43.10" height="7.4" fill="#383e9e"/>
<line x1="74.2" y1="462.26" x2="76.6" y2="462.26" stroke="#3c3c3c" stroke-width="0.85"/>
<text x="69.60" y="465.96" font-size="10.8" text-anchor="end" fill="#2a2a2a" textLength="48.8" lengthAdjust="spacingAndGlyphs">La Crosse</text>
<rect x="110.00" y="468.12" width="45.00" height="7.4" fill="#383e9e"/>
<line x1="74.2" y1="471.82" x2="76.6" y2="471.82" stroke="#3c3c3c" stroke-width="0.85"/>
<text x="69.60" y="475.52" font-size="10.8" text-anchor="end" fill="#2a2a2a" textLength="61.9" lengthAdjust="spacingAndGlyphs">Youngstown</text>
<rect x="107.70" y="477.68" width="47.30" height="7.4" fill="#383e9e"/>
<line x1="74.2" y1="481.38" x2="76.6" y2="481.38" stroke="#3c3c3c" stroke-width="0.85"/>
<text x="69.60" y="485.08" font-size="10.8" text-anchor="end" fill="#2a2a2a" textLength="50.4" lengthAdjust="spacingAndGlyphs">Eau Claire</text>
<rect x="107.20" y="487.24" width="47.80" height="7.4" fill="#dfc11e"/>
<line x1="74.2" y1="490.94" x2="76.6" y2="490.94" stroke="#3c3c3c" stroke-width="0.85"/>
<text x="69.60" y="494.64" font-size="10.8" text-anchor="end" fill="#2a2a2a" textLength="35.5" lengthAdjust="spacingAndGlyphs">Denver</text>
<rect x="105.00" y="496.80" width="50.00" height="7.4" fill="#383e9e"/>
<line x1="74.2" y1="500.50" x2="76.6" y2="500.50" stroke="#3c3c3c" stroke-width="0.85"/>
<text x="69.60" y="504.20" font-size="10.8" text-anchor="end" fill="#2a2a2a" textLength="33.9" lengthAdjust="spacingAndGlyphs">Duluth</text>
<rect x="101.90" y="506.36" width="53.10" height="7.4" fill="#383e9e"/>
<line x1="74.2" y1="510.06" x2="76.6" y2="510.06" stroke="#3c3c3c" stroke-width="0.85"/>
<text x="69.60" y="513.76" font-size="10.8" text-anchor="end" fill="#2a2a2a" textLength="52.8" lengthAdjust="spacingAndGlyphs">Milwaukee</text>
<rect x="84.30" y="515.92" width="70.70" height="7.4" fill="#383e9e"/>
<line x1="74.2" y1="519.62" x2="76.6" y2="519.62" stroke="#3c3c3c" stroke-width="0.85"/>
<text x="69.60" y="523.32" font-size="10.8" text-anchor="end" fill="#2a2a2a" textLength="39.1" lengthAdjust="spacingAndGlyphs">Wausau</text>
<rect x="76.6" y="17.6" width="173.20" height="506.80" fill="none" stroke="#777" stroke-width="1"/>
<line x1="112.50" y1="524.4" x2="112.50" y2="527.1999999999999" stroke="#3c3c3c" stroke-width="0.85"/>
<text x="111.00" y="538.10" font-size="9.4" text-anchor="middle" fill="#333">−1</text>
<line x1="155.00" y1="524.4" x2="155.00" y2="527.1999999999999" stroke="#3c3c3c" stroke-width="0.85"/>
<text x="155.00" y="538.10" font-size="9.4" text-anchor="middle" fill="#333">0</text>
<line x1="197.50" y1="524.4" x2="197.50" y2="527.1999999999999" stroke="#3c3c3c" stroke-width="0.85"/>
<text x="197.50" y="538.10" font-size="9.4" text-anchor="middle" fill="#333">1</text>
<line x1="240.00" y1="524.4" x2="240.00" y2="527.1999999999999" stroke="#3c3c3c" stroke-width="0.85"/>
<text x="240.00" y="538.10" font-size="9.4" text-anchor="middle" fill="#333">2</text>
<text x="162.90" y="553.80" font-size="11.1" text-anchor="middle" fill="#222" textLength="169" lengthAdjust="spacingAndGlyphs">Difference from the average effect</text>
<text x="169.80" y="417.80" font-size="11.0" text-anchor="start" fill="#222" textLength="75" lengthAdjust="spacingAndGlyphs">Climatic region</text>
<rect x="171" y="423.00" width="9" height="8.8" fill="#7a0b88"/>
<text x="186.00" y="430.20" font-size="9.4" text-anchor="start" fill="#333">West</text>
<rect x="171" y="437.85" width="9" height="8.8" fill="#f8d418"/>
<text x="186.00" y="445.05" font-size="9.4" text-anchor="start" fill="#333">Southwest</text>
<rect x="171" y="452.70" width="9" height="8.8" fill="#2e47a8"/>
<text x="186.00" y="459.90" font-size="9.4" text-anchor="start" fill="#333">Midwest</text>
<rect x="171" y="467.55" width="9" height="8.8" fill="#dc2a26"/>
<text x="186.00" y="474.75" font-size="9.4" text-anchor="start" fill="#333">South</text>
<rect x="171" y="482.40" width="9" height="8.8" fill="#f5a01c"/>
<text x="186.00" y="489.60" font-size="9.4" text-anchor="start" fill="#333">Southeast</text>
<rect x="171" y="497.25" width="9" height="8.8" fill="#1f7a1c"/>
<text x="186.00" y="504.45" font-size="9.4" text-anchor="start" fill="#333">Northeast</text>
<text x="269.30" y="281.70" font-size="16.2" text-anchor="start" fill="#000" font-weight="bold">c</text>
<circle cx="396.0" cy="353.9" r="2.35" fill="#3741aa" stroke="#444" stroke-width="0.45"/>
<circle cx="336.8" cy="391.5" r="2.35" fill="#3741aa" stroke="#444" stroke-width="0.45"/>
<circle cx="412.5" cy="388.4" r="2.35" fill="#3caa46" stroke="#444" stroke-width="0.45"/>
<circle cx="410.6" cy="424.6" r="2.35" fill="#3741aa" stroke="#444" stroke-width="0.45"/>
<circle cx="395.2" cy="433.6" r="2.35" fill="#3741aa" stroke="#444" stroke-width="0.45"/>
<circle cx="416.5" cy="421.3" r="2.35" fill="#3caa46" stroke="#444" stroke-width="0.45"/>
<circle cx="328.4" cy="483.5" r="2.35" fill="#3741aa" stroke="#444" stroke-width="0.45"/>
<circle cx="361.3" cy="450.8" r="2.35" fill="#3741aa" stroke="#444" stroke-width="0.45"/>
<circle cx="380.6" cy="444.9" r="2.35" fill="#3741aa" stroke="#444" stroke-width="0.45"/>
<circle cx="396.5" cy="441.2" r="2.35" fill="#3caa46" stroke="#444" stroke-width="0.45"/>
<circle cx="396.3" cy="449.7" r="2.35" fill="#3741aa" stroke="#444" stroke-width="0.45"/>
<circle cx="379.9" cy="473.4" r="2.35" fill="#3741aa" stroke="#444" stroke-width="0.45"/>
<circle cx="359.1" cy="479.5" r="2.35" fill="#3741aa" stroke="#444" stroke-width="0.45"/>
<circle cx="380.4" cy="487.8" r="2.35" fill="#3741aa" stroke="#444" stroke-width="0.45"/>
<circle cx="398.5" cy="480.0" r="2.35" fill="#fae13c" stroke="#444" stroke-width="0.45"/>
<circle cx="348.6" cy="513.1" r="2.35" fill="#3741aa" stroke="#444" stroke-width="0.45"/>
<circle cx="421.8" cy="400.8" r="2.35" fill="#a541af" stroke="#444" stroke-width="0.45"/>
<circle cx="436.0" cy="413.5" r="2.35" fill="#3741aa" stroke="#444" stroke-width="0.45"/>
<circle cx="441.7" cy="413.0" r="2.35" fill="#3741aa" stroke="#444" stroke-width="0.45"/>
<circle cx="452.7" cy="423.6" r="2.35" fill="#3caa46" stroke="#444" stroke-width="0.45"/>
<circle cx="472.1" cy="414.7" r="2.35" fill="#fab93c" stroke="#444" stroke-width="0.45"/>
<circle cx="477.4" cy="410.8" r="2.35" fill="#3caa46" stroke="#444" stroke-width="0.45"/>
<circle cx="441.3" cy="439.3" r="2.35" fill="#3caa46" stroke="#444" stroke-width="0.45"/>
<circle cx="465.8" cy="435.3" r="2.35" fill="#fae13c" stroke="#444" stroke-width="0.45"/>
<circle cx="427.4" cy="446.3" r="2.35" fill="#3caa46" stroke="#444" stroke-width="0.45"/>
<circle cx="405.8" cy="456.6" r="2.35" fill="#3741aa" stroke="#444" stroke-width="0.45"/>
<circle cx="409.1" cy="461.1" r="2.35" fill="#3caa46" stroke="#444" stroke-width="0.45"/>
<circle cx="407.8" cy="466.2" r="2.35" fill="#3caa46" stroke="#444" stroke-width="0.45"/>
<circle cx="409.4" cy="475.5" r="2.35" fill="#3741aa" stroke="#444" stroke-width="0.45"/>
<circle cx="462.7" cy="354.4" r="2.35" fill="#eb4146" stroke="#444" stroke-width="0.45"/>
<circle cx="437.0" cy="362.0" r="2.35" fill="#a541af" stroke="#444" stroke-width="0.45"/>
<circle cx="452.7" cy="392.1" r="2.35" fill="#eb4146" stroke="#444" stroke-width="0.45"/>
<circle cx="550.4" cy="285.3" r="2.35" fill="#fae13c" stroke="#444" stroke-width="0.45"/>
<circle cx="484.4" cy="316.0" r="2.35" fill="#a541af" stroke="#444" stroke-width="0.45"/>
<circle cx="546.9" cy="316.0" r="2.35" fill="#eb4146" stroke="#444" stroke-width="0.45"/>
<circle cx="564.4" cy="348.8" r="2.35" fill="#eb4146" stroke="#444" stroke-width="0.45"/>
<circle cx="546.8" cy="355.2" r="2.35" fill="#a541af" stroke="#444" stroke-width="0.45"/>
<circle cx="559.5" cy="359.0" r="2.35" fill="#eb4146" stroke="#444" stroke-width="0.45"/>
<circle cx="589.8" cy="356.8" r="2.35" fill="#fab93c" stroke="#444" stroke-width="0.45"/>
<circle cx="586.8" cy="365.9" r="2.35" fill="#eb4146" stroke="#444" stroke-width="0.45"/>
<circle cx="601.7" cy="372.6" r="2.35" fill="#fae13c" stroke="#444" stroke-width="0.45"/>
<circle cx="586.4" cy="389.6" r="2.35" fill="#fab93c" stroke="#444" stroke-width="0.45"/>
<circle cx="616.4" cy="394.8" r="2.35" fill="#fab93c" stroke="#444" stroke-width="0.45"/>
<circle cx="585.2" cy="406.6" r="2.35" fill="#eb4146" stroke="#444" stroke-width="0.45"/>
<circle cx="511.5" cy="367.8" r="2.35" fill="#a541af" stroke="#444" stroke-width="0.45"/>
<circle cx="521.2" cy="369.9" r="2.35" fill="#fab93c" stroke="#444" stroke-width="0.45"/>
<circle cx="531.7" cy="387.2" r="2.35" fill="#fab93c" stroke="#444" stroke-width="0.45"/>
<circle cx="497.1" cy="398.7" r="2.35" fill="#eb4146" stroke="#444" stroke-width="0.45"/>
<circle cx="541.3" cy="405.1" r="2.35" fill="#a541af" stroke="#444" stroke-width="0.45"/>
<circle cx="540.0" cy="407.1" r="2.35" fill="#fab93c" stroke="#444" stroke-width="0.45"/>
<circle cx="510.2" cy="439.4" r="2.35" fill="#fab93c" stroke="#444" stroke-width="0.45"/>
<circle cx="529.4" cy="436.5" r="2.35" fill="#a541af" stroke="#444" stroke-width="0.45"/>
<circle cx="643.7" cy="430.1" r="2.35" fill="#fab93c" stroke="#444" stroke-width="0.45"/>
<path d="M327.00,494.90 L331.62,490.44 L336.23,486.07 L340.85,481.78 L345.47,477.58 L350.09,473.46 L354.70,469.43 L359.32,465.49 L363.94,461.63 L368.56,457.85 L373.17,454.16 L377.79,450.56 L382.41,447.04 L387.03,443.61 L391.64,440.26 L396.26,437.00 L400.88,433.82 L405.50,430.73 L410.11,427.73 L414.73,424.81 L419.35,421.97 L423.97,419.22 L428.58,416.56 L433.20,413.98 L437.82,411.49 L442.43,409.08 L447.05,406.76 L451.67,404.52 L456.29,402.37 L460.90,400.31 L465.52,398.33 L470.14,396.43 L474.76,394.62 L479.37,392.90 L483.99,391.26 L488.61,389.71 L493.23,388.24 L497.84,386.86 L502.46,385.56 L507.08,384.35 L511.70,383.23 L516.31,382.19 L520.93,381.23 L525.55,380.36 L530.17,379.58 L534.78,378.88 L539.40,378.27 L544.02,377.74 L548.63,377.30 L553.25,376.94 L557.87,376.67 L562.49,376.48 L567.10,376.38 L571.72,376.37 L576.34,376.44 L580.96,376.59 L585.57,376.83 L590.19,377.16 L594.81,377.57 L599.43,378.07 L604.04,378.65 L608.66,379.32 L613.28,380.08 L617.90,380.92 L622.51,381.84 L627.13,382.85 L631.75,383.95 L636.37,385.13 L640.98,386.39 L645.60,387.75" fill="none" stroke="#dd2a1e" stroke-width="3.6"/>
<line x1="309.9" y1="509.00" x2="312.5" y2="509.00" stroke="#3c3c3c" stroke-width="0.85"/>
<text x="305.30" y="512.30" font-size="9.4" text-anchor="end" fill="#333">−0.5</text>
<line x1="309.9" y1="478.00" x2="312.5" y2="478.00" stroke="#3c3c3c" stroke-width="0.85"/>
<text x="305.30" y="481.30" font-size="9.4" text-anchor="end" fill="#333">0</text>
<line x1="309.9" y1="447.00" x2="312.5" y2="447.00" stroke="#3c3c3c" stroke-width="0.85"/>
<text x="305.30" y="450.30" font-size="9.4" text-anchor="end" fill="#333">0.5</text>
<line x1="309.9" y1="416.00" x2="312.5" y2="416.00" stroke="#3c3c3c" stroke-width="0.85"/>
<text x="305.30" y="419.30" font-size="9.4" text-anchor="end" fill="#333">1.0</text>
<line x1="309.9" y1="385.00" x2="312.5" y2="385.00" stroke="#3c3c3c" stroke-width="0.85"/>
<text x="305.30" y="388.30" font-size="9.4" text-anchor="end" fill="#333">1.5</text>
<line x1="309.9" y1="354.00" x2="312.5" y2="354.00" stroke="#3c3c3c" stroke-width="0.85"/>
<text x="305.30" y="357.30" font-size="9.4" text-anchor="end" fill="#333">2.0</text>
<line x1="309.9" y1="323.00" x2="312.5" y2="323.00" stroke="#3c3c3c" stroke-width="0.85"/>
<text x="305.30" y="326.30" font-size="9.4" text-anchor="end" fill="#333">2.5</text>
<line x1="309.9" y1="292.00" x2="312.5" y2="292.00" stroke="#3c3c3c" stroke-width="0.85"/>
<text x="305.30" y="295.30" font-size="9.4" text-anchor="end" fill="#333">3.0</text>
<line x1="328.80" y1="524.2" x2="328.80" y2="526.8000000000001" stroke="#3c3c3c" stroke-width="0.85"/>
<text x="328.80" y="538.80" font-size="9.4" text-anchor="middle" fill="#333">5.0</text>
<line x1="367.41" y1="524.2" x2="367.41" y2="526.8000000000001" stroke="#3c3c3c" stroke-width="0.85"/>
<text x="367.41" y="538.80" font-size="9.4" text-anchor="middle" fill="#333">7.5</text>
<line x1="406.02" y1="524.2" x2="406.02" y2="526.8000000000001" stroke="#3c3c3c" stroke-width="0.85"/>
<text x="406.02" y="538.80" font-size="9.4" text-anchor="middle" fill="#333">10.0</text>
<line x1="444.64" y1="524.2" x2="444.64" y2="526.8000000000001" stroke="#3c3c3c" stroke-width="0.85"/>
<text x="444.64" y="538.80" font-size="9.4" text-anchor="middle" fill="#333">12.5</text>
<line x1="483.25" y1="524.2" x2="483.25" y2="526.8000000000001" stroke="#3c3c3c" stroke-width="0.85"/>
<text x="483.25" y="538.80" font-size="9.4" text-anchor="middle" fill="#333">15.0</text>
<line x1="521.86" y1="524.2" x2="521.86" y2="526.8000000000001" stroke="#3c3c3c" stroke-width="0.85"/>
<text x="521.86" y="538.80" font-size="9.4" text-anchor="middle" fill="#333">17.5</text>
<line x1="560.48" y1="524.2" x2="560.48" y2="526.8000000000001" stroke="#3c3c3c" stroke-width="0.85"/>
<text x="560.48" y="538.80" font-size="9.4" text-anchor="middle" fill="#333">20.0</text>
<line x1="599.09" y1="524.2" x2="599.09" y2="526.8000000000001" stroke="#3c3c3c" stroke-width="0.85"/>
<text x="599.09" y="538.80" font-size="9.4" text-anchor="middle" fill="#333">22.5</text>
<line x1="637.70" y1="524.2" x2="637.70" y2="526.8000000000001" stroke="#3c3c3c" stroke-width="0.85"/>
<text x="637.70" y="538.80" font-size="9.4" text-anchor="middle" fill="#333">25.0</text>
<text x="486.20" y="554.20" font-size="11.0" text-anchor="middle" fill="#222" textLength="125.6" lengthAdjust="spacingAndGlyphs">Average temperature (°C)</text>
<text transform="translate(279.3,399.8) rotate(-90)" font-size="10.6" text-anchor="middle" fill="#222" textLength="76" lengthAdjust="spacingAndGlyphs">Park–step slope</text>
<text x="554.10" y="285.90" font-size="9.2" text-anchor="start" fill="#222">Tucson</text>
<text x="488.10" y="316.10" font-size="9.2" text-anchor="start" fill="#222">San Francisco</text>
<text x="550.60" y="316.10" font-size="9.2" text-anchor="start" fill="#222">Dallas</text>
<text x="524.90" y="369.90" font-size="9.2" text-anchor="start" fill="#222">Atlanta</text>
<text x="605.30" y="372.90" font-size="9.2" text-anchor="start" fill="#222">Phoenix</text>
<text x="620.20" y="394.50" font-size="9.2" text-anchor="start" fill="#222">Tampa</text>
<text x="544.90" y="405.30" font-size="9.2" text-anchor="start" fill="#222">Los Angeles</text>
<text x="476.50" y="414.60" font-size="9.2" text-anchor="start" fill="#222">Washington</text>
<text x="340.60" y="391.90" font-size="9.2" text-anchor="start" fill="#222">Fargo</text>
<text x="414.60" y="425.40" font-size="9.2" text-anchor="start" fill="#222">Chicago</text>
<text x="444.70" y="439.60" font-size="9.2" text-anchor="start" fill="#222">New York</text>
<text x="647.30" y="430.10" font-size="9.2" text-anchor="start" fill="#222">Miami</text>
<text x="409.70" y="456.60" font-size="9.2" text-anchor="start" fill="#222">Detroit</text>
<text x="411.80" y="466.70" font-size="9.2" text-anchor="start" fill="#222">Boston</text>
<text x="402.60" y="479.70" font-size="9.2" text-anchor="start" fill="#222">Denver</text>
<text x="331.90" y="483.70" font-size="9.2" text-anchor="start" fill="#222">Duluth</text>
<rect x="312.5" y="274.5" width="347.10" height="249.70" fill="none" stroke="#777" stroke-width="1"/>
</svg>
</body></html>
